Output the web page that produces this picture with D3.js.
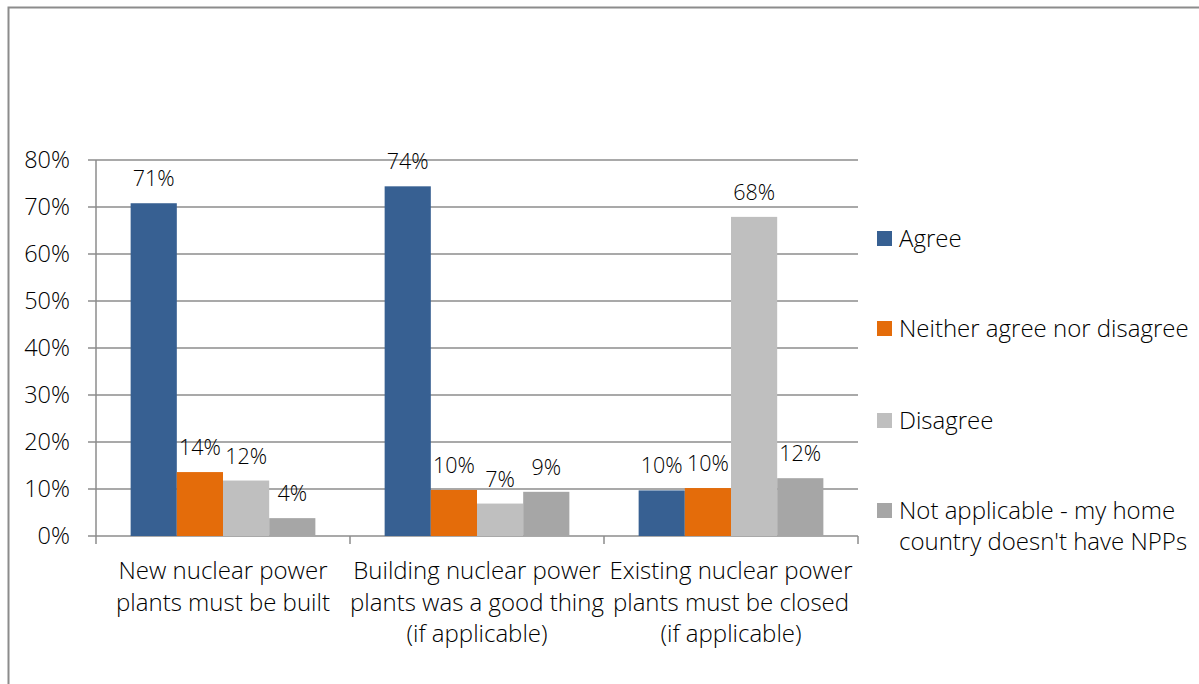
<!DOCTYPE html>
<html><head><meta charset="utf-8">
<script src="https://cdn.jsdelivr.net/npm/d3@7"></script>
<style>body{margin:0;background:#fff}svg{display:block}text{font-family:"Open Sans",sans-serif;fill:#000;font-weight:300}</style>
</head><body><svg id="c" width="1199" height="684"></svg>
<script>
const categories = [
  ["New nuclear power","plants must be built"],
  ["Building nuclear power","plants was a good thing","(if applicable)"],
  ["Existing nuclear power","plants must be closed","(if applicable)"]
];
const seriesNames = [["Agree"],["Neither agree nor disagree"],["Disagree"],["Not applicable - my home","country doesn't have NPPs"]];
const colors = ["#376092","#E46C0A","#BFBFBF","#A6A6A6"];
const agree = [70.8, 74.4, 9.7];
const neither = [13.6, 9.8, 10.2];
const disagree = [11.8, 6.9, 67.9];
const notApplicable = [3.8, 9.4, 12.3];
const labels = [["71%","74%","10%"],["14%","10%","10%"],["12%","7%","68%"],["4%","9%","12%"]];
const yTicks = [0,10,20,30,40,50,60,70,80];

const series = [agree, neither, disagree, notApplicable];
const svg = d3.select("#c");
const L=96, R=858, T=160, B=536;
const x0 = d3.scaleBand().domain(d3.range(3)).range([L,R]).paddingInner(0).paddingOuter(0);
const x1 = d3.scaleBand().domain(d3.range(4)).range([0,x0.bandwidth()]).paddingOuter(0.75).paddingInner(0);
const y = d3.scaleLinear().domain([0,80]).range([B,T]);

svg.append("path").attr("d","M8.5,684 V7.5 H1199").attr("fill","none").attr("stroke","#8c8c8c").attr("stroke-width",2);

svg.append("g").selectAll("line").data(yTicks).join("line")
  .attr("x1",L-8).attr("x2",R).attr("y1",d=>y(d)).attr("y2",d=>y(d))
  .attr("stroke","#8c8c8c").attr("stroke-width",1.5);
svg.append("line").attr("x1",L).attr("x2",L).attr("y1",T).attr("y2",B).attr("stroke","#8c8c8c").attr("stroke-width",1.5);
svg.append("g").selectAll("line").data([0,1,2,3]).join("line")
  .attr("x1",i=>L+i*x0.bandwidth()).attr("x2",i=>L+i*x0.bandwidth()).attr("y1",B).attr("y2",B+8)
  .attr("stroke","#8c8c8c").attr("stroke-width",1.5);
svg.append("g").selectAll("text").data(yTicks).join("text")
  .attr("x",70).attr("y",d=>y(d)).attr("dy","0.36em").attr("text-anchor","end")
  .style("font-size","23.5px").text(d=>d+"%");

series.forEach((vals,si)=>{
  const g = svg.append("g");
  g.selectAll("rect").data(vals).join("rect")
    .attr("x",(d,ci)=>x0(ci)+x1(si)).attr("width",x1.bandwidth())
    .attr("y",d=>y(d)).attr("height",d=>B-y(d)).attr("fill",colors[si]);
  g.selectAll("text").data(vals).join("text")
    .attr("x",(d,ci)=>x0(ci)+x1(si)+x1.bandwidth()/2).attr("y",d=>y(d)-17)
    .attr("text-anchor","middle").style("font-size","21.5px").text((d,ci)=>labels[si][ci]);
});

categories.forEach((lines,ci)=>{
  const t = svg.append("text").attr("text-anchor","middle").style("font-size","24px");
  lines.forEach((ln,li)=>t.append("tspan").attr("x",x0(ci)+x0.bandwidth()/2).attr("y",579+li*31.5).text(ln));
});

const ly = [238,328,420,510];
seriesNames.forEach((lines,si)=>{
  svg.append("rect").attr("x",877).attr("y",ly[si]-7).attr("width",15).attr("height",15).attr("fill",colors[si]);
  const t = svg.append("text").style("font-size","24px");
  lines.forEach((ln,li)=>t.append("tspan").attr("x",899).attr("y",ly[si]+li*31.5).attr("dy","0.36em").text(ln));
});
</script></body></html>
